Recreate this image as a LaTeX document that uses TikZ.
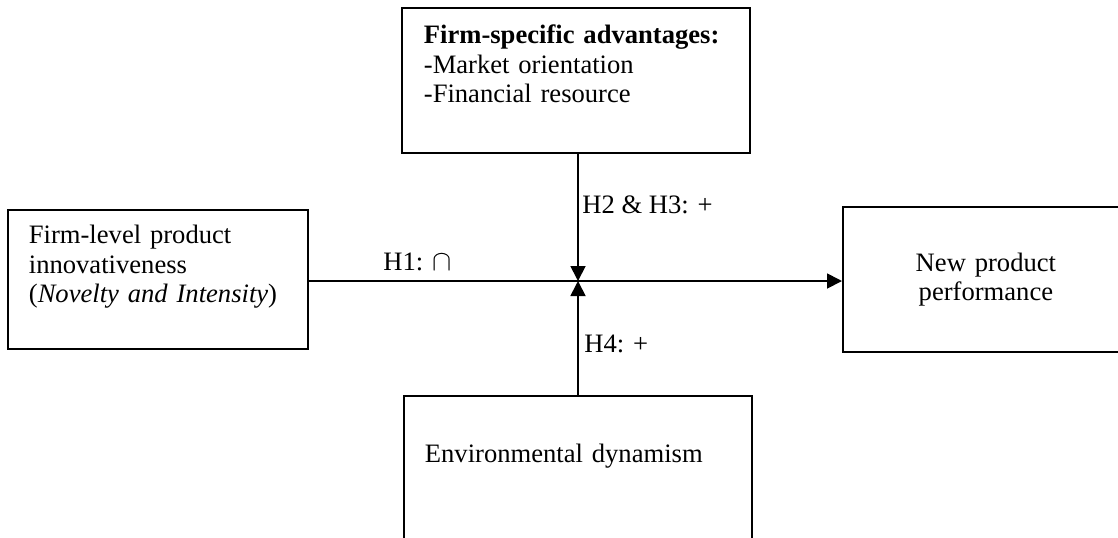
\documentclass[tikz,border=0pt]{standalone}
\usepackage{fontspec}
\setmainfont{Liberation Serif}
\usetikzlibrary{arrows.meta}

\begin{document}
\begin{tikzpicture}[x=0.5pt, y=-0.5pt, >={Triangle[length=7.5pt,width=7.5pt]},
  blk/.style={draw,line width=0.9pt,anchor=north west,inner ysep=6pt,font=\fontsize{13.3}{14.75}\selectfont},
  hyp/.style={anchor=base west,inner sep=0pt,font=\fontsize{13.3}{14.75}\selectfont}]
            \clip (0,0) rectangle (1118,537);
            \node[blk,align=left,text width=152pt,inner xsep=11pt,text height=12pt,text depth=48.5pt] (fsa) at (401,7) {\textbf{Firm-specific advantages:}\\-Market orientation\\-Financial resource};
            \node[blk,align=left,text width=129pt,inner xsep=10.5pt,text height=11pt,text depth=46.5pt] (fpi) at (7,209) {Firm-level product\\innovativeness\\(\textit{Novelty and Intensity})};
            \node[blk,align=center,text width=123pt,inner xsep=10pt,minimum height=72.5pt] (npp) at (842,206) {New product\\performance};
            \node[blk,align=left,text width=153pt,inner xsep=10.5pt,text height=27.5pt,text depth=35.5pt] (env) at (403,395) {Environmental dynamism};

            \coordinate (m) at (578,281);
            \draw[->,line width=0.9pt] (fsa.south -| m) -- (m);
            \draw[->,line width=0.9pt] (env.north -| m) -- (m);
            \draw[->,line width=0.9pt] (fpi.east |- m) -- (npp.west |- m);

            \node[hyp] (h1) at (383,270) {H1: $\cap$};
            \node[hyp] (h23) at (582,213) {H2 \& H3: +};
            \node[hyp] (h4) at (584,352) {H4: +};
          \end{tikzpicture}
\end{document}
